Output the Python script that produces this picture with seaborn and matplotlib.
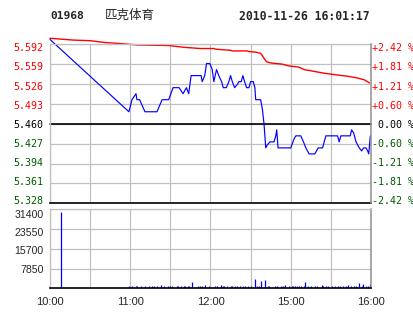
import matplotlib
matplotlib.use("Agg")
import matplotlib.pyplot as plt
import seaborn as sns
import pandas as pd
from matplotlib.transforms import ScaledTranslation

# ---------------- data ----------------
stock_code = "01968"
stock_name = "匹克体育"
stamp = "2010-11-26 16:01:17"
prev_close = 5.460
price_ticks = [5.328, 5.361, 5.394, 5.427, 5.460, 5.493, 5.526, 5.559, 5.592]
price_labels = ["5.328", "5.361", "5.394", "5.427", "5.460", "5.493", "5.526", "5.559", "5.592"]
pct_labels = ["-2.42 %", "-1.81 %", "-1.21 %", "-0.60 %", " 0.00 %",
              "+0.60 %", "+1.21 %", "+1.81 %", "+2.42 %"]
vol_ticks = [7850, 15700, 23550, 31400]
vol_labels = ["7850", "15700", "23550", "31400"]
time_ticks = [0, 30, 60, 90, 120, 150, 180, 210, 240]
time_labels = ["10:00", "", "11:00", "", "12:00", "", "15:00", "", "16:00"]

# minutes since 10:00 (trading minutes, lunch break removed)
price_min = [0, 59, 61.3, 64.3, 65, 67, 71, 80, 83.8, 88.7, 92, 96.5, 99.5, 102, 103.7,
             105.5, 113, 113.8, 115.7, 117, 119.5, 121.3, 122.5, 124.5, 126.2, 128.3,
             129.5, 131.8, 133.7, 135, 136.3, 138, 140, 141.2, 143, 144.2, 145.5, 147,
             148.7, 150, 152, 153.2, 153.8, 157.5, 158.8, 160, 160.5, 161.3, 162.5,
             164.5, 167.5, 168.8, 169.5, 170.5, 180, 182.5, 183.8, 187.5, 189.5, 191.3,
             193.7, 198, 200.5, 203.8, 205, 206.3, 215, 216.2, 217.5, 224.5, 225.5, 227,
             228.8, 231.2, 233, 234.5, 236.3, 237.5, 238.3, 239.5]
price_val = [5.60, 5.48, 5.50, 5.51, 5.50, 5.50, 5.48, 5.48, 5.50, 5.50, 5.52, 5.52, 5.51,
             5.52, 5.51, 5.54, 5.54, 5.53, 5.54, 5.56, 5.56, 5.55, 5.53, 5.55, 5.54, 5.53,
             5.52, 5.52, 5.53, 5.54, 5.53, 5.52, 5.525, 5.53, 5.53, 5.54, 5.53, 5.52, 5.52,
             5.53, 5.53, 5.52, 5.50, 5.50, 5.484, 5.46, 5.445, 5.42, 5.425, 5.43, 5.43,
             5.44, 5.45, 5.42, 5.42, 5.435, 5.44, 5.44, 5.43, 5.42, 5.41, 5.41, 5.42, 5.42,
             5.43, 5.44, 5.44, 5.43, 5.44, 5.44, 5.45, 5.445, 5.43, 5.42, 5.415, 5.42,
             5.42, 5.415, 5.41, 5.44]

avg_min = [0, 17.5, 30, 41, 54, 65, 89, 100, 112.5, 122.5, 123.8, 135, 136.3, 147.5, 148.7,
           153.8, 157.5, 158.8, 160.5, 162, 165, 173.8, 178.7, 186.2, 190, 195, 205, 215,
           222.5, 230, 235, 238.8]
avg_val = [5.602, 5.599, 5.598, 5.595, 5.593, 5.591, 5.590, 5.587, 5.585, 5.585, 5.584,
           5.582, 5.581, 5.581, 5.580, 5.579, 5.577, 5.573, 5.567, 5.563, 5.561, 5.559,
           5.556, 5.554, 5.550, 5.548, 5.544, 5.541, 5.539, 5.536, 5.533, 5.528]

vol_min = [8, 59, 61, 64, 65, 68, 71, 74, 76, 78, 80, 83, 85, 88, 90, 91, 95, 96, 98, 100,
           101, 103, 104, 106, 111, 112, 114, 116, 119, 123, 125, 128, 129, 130, 132, 135,
           136, 138, 140, 142, 144, 146, 148, 150, 153, 155, 156, 158, 161, 163, 164, 168,
           170, 173, 174, 176, 179, 181, 182, 183, 185, 186, 188, 190, 191, 193, 195, 198,
           200, 203, 204, 206, 208, 211, 213, 215, 217, 219, 221, 223, 225, 227, 229, 231,
           233, 234, 236, 238, 239]
vol_val = [30500, 900, 900, 1100, 900, 900, 900, 900, 900, 900, 900, 1300, 900, 1100, 900,
           900, 900, 900, 900, 900, 900, 900, 1100, 2350, 900, 900, 1100, 1200, 900, 900,
           900, 1200, 1100, 900, 900, 900, 900, 900, 900, 900, 900, 900, 900, 900, 3650,
           1100, 900, 3000, 3270, 1100, 900, 1100, 900, 900, 900, 1200, 900, 900, 900, 900,
           900, 900, 900, 900, 2350, 900, 900, 900, 900, 1200, 900, 900, 900, 900, 900,
           1100, 900, 900, 900, 1200, 900, 900, 900, 1960, 1100, 1700, 900, 900, 1570]

# ---------------- style ----------------
sns.set_style("white")
plt.rcParams["font.family"] = ["DejaVu Sans Mono", "Noto Sans CJK SC"]

RED = "#ff0000"
GREEN = "#005a00"
GRID = "#c0c0c0"
BLUE = "#0000ff"

W, H = 414, 314
fig = plt.figure(figsize=(W / 100, H / 100), dpi=100)


def rect(l, t, r, b):
    return [l / W, 1 - b / H, (r - l) / W, (b - t) / H]


ax = fig.add_axes(rect(50, 44.3, 371, 203.3))
axv = fig.add_axes(rect(50, 209.3, 371, 288.3))

price_df = pd.DataFrame({"minute": price_min, "price": price_val})
avg_df = pd.DataFrame({"minute": avg_min, "price": avg_val})

# ---------------- price panel ----------------
ax.set_xlim(0, 240)
ax.set_ylim(price_ticks[0], price_ticks[-1])
ax.set_xticks(time_ticks)
ax.set_xticklabels([])
ax.set_yticks(price_ticks)
ax.set_yticklabels(price_labels)
ax.grid(True, color=GRID, lw=0.9)
ax.set_axisbelow(True)
ax.axhline(prev_close, color="black", lw=1.2, zorder=2)

sns.lineplot(data=avg_df, x="minute", y="price", ax=ax, color=RED, lw=1.0,
             estimator=None, sort=False)
sns.lineplot(data=price_df, x="minute", y="price", ax=ax, color=BLUE, lw=0.85,
             estimator=None, sort=False)
for ln in ax.lines:
    ln.set_clip_on(False)
ax.set_xlabel("")
ax.set_ylabel("")

for side in ["left", "top"]:
    ax.spines[side].set_color(GRID)
    ax.spines[side].set_linewidth(0.9)
ax.spines["right"].set_visible(False)
ax.spines["bottom"].set_color("black")
ax.spines["bottom"].set_linewidth(1.2)
ax.tick_params(axis="both", length=0)
ax.tick_params(axis="y", pad=4.5, labelsize=7.2)


def level_color(v):
    if abs(v - prev_close) < 1e-9:
        return "black"
    return RED if v > prev_close else GREEN


for lab, v in zip(ax.get_yticklabels(), price_ticks):
    lab.set_color(level_color(v))

axr = ax.twinx()
axr.set_ylim(price_ticks[0], price_ticks[-1])
axr.set_yticks(price_ticks)
axr.set_yticklabels(pct_labels)
axr.tick_params(axis="y", length=0, pad=0.5, labelsize=7.2)
for side in ["left", "top", "bottom"]:
    axr.spines[side].set_visible(False)
axr.spines["right"].set_color("#909090")
axr.spines["right"].set_linewidth(1.1)
for lab, v in zip(axr.get_yticklabels(), price_ticks):
    lab.set_color(level_color(v))

# ---------------- volume panel ----------------
axv.set_xlim(0, 240)
axv.set_ylim(0, vol_ticks[-1])
axv.vlines(vol_min, 0, vol_val, color=BLUE, lw=0.9)
axv.set_xticks(time_ticks)
axv.set_xticklabels(time_labels, fontfamily="Liberation Sans", fontsize=8)
axv.set_yticks(vol_ticks)
axv.set_yticklabels(vol_labels, fontfamily="Liberation Sans", fontsize=7.6)
axv.grid(True, color=GRID, lw=0.9)
axv.set_axisbelow(True)
for side in ["left", "top"]:
    axv.spines[side].set_color(GRID)
    axv.spines[side].set_linewidth(0.9)
axv.spines["right"].set_color("#909090")
axv.spines["right"].set_linewidth(1.1)
axv.spines["bottom"].set_color("black")
axv.spines["bottom"].set_linewidth(1.2)
axv.tick_params(axis="both", length=0)
axv.tick_params(axis="y", pad=4.5)
axv.tick_params(axis="x", pad=6)

# the original spaces its labels slightly tighter than its grid lines:
# shift each label a little (pixels, + = downwards)
n = len(price_ticks)
for a in (ax, axr):
    for i, lab in enumerate(a.get_yticklabels()):
        off = -2.9 + 5.8 * i / (n - 1)   # bottom label up, top label down
        lab.set_transform(lab.get_transform() +
                          ScaledTranslation(0, -off / 100, fig.dpi_scale_trans))
vol_offsets = [0.8, 1.6, 3.2, 4.4]
for lab, off in zip(axv.get_yticklabels(), vol_offsets):
    lab.set_transform(lab.get_transform() +
                      ScaledTranslation(0, -off / 100, fig.dpi_scale_trans))

# ---------------- header ----------------
ty = 1 - 16 / H
fig.text(50 / W, ty, stock_code, fontfamily="DejaVu Sans Mono", fontweight="bold",
         fontsize=8.1, va="center", ha="left")
fig.text(105 / W, 1 - 15 / H, stock_name, fontfamily=["Noto Sans CJK SC", "DejaVu Sans"],
         fontsize=9, va="center", ha="left")
fig.text(369.5 / W, ty, stamp, fontfamily="DejaVu Sans Mono", fontweight="bold",
         fontsize=8.3, va="center", ha="right")

fig.savefig("out.png", dpi=100, facecolor="white")
